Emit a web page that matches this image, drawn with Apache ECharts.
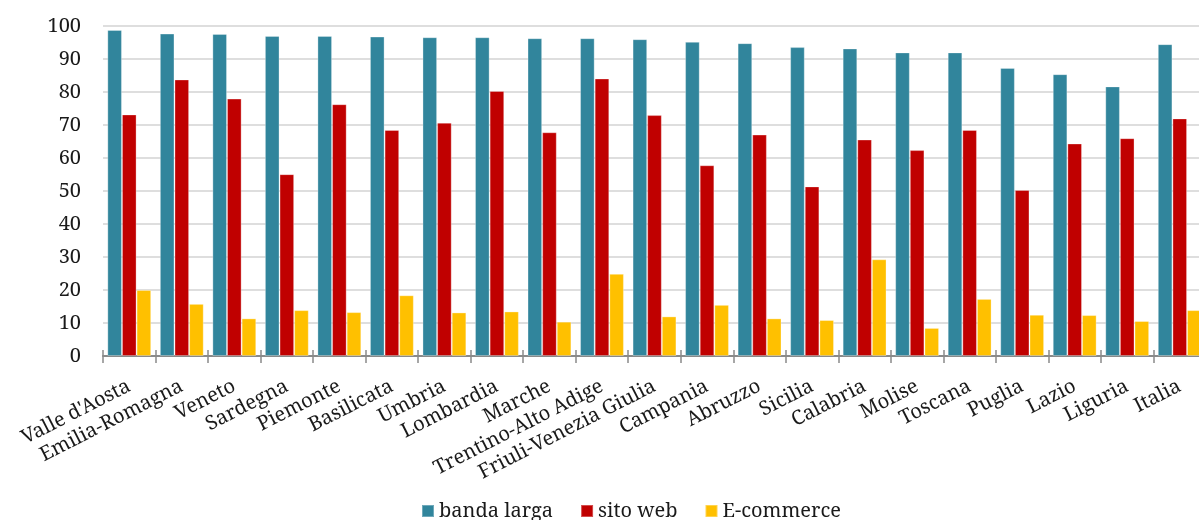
<!DOCTYPE html>
<html>
<head>
<meta charset="utf-8">
<title>Imprese con banda larga, sito web ed e-commerce per regione</title>
<script src="https://cdn.jsdelivr.net/npm/echarts@6/dist/echarts.min.js"></script>
<style>
  html, body { margin: 0; padding: 0; background: #ffffff; overflow: hidden; }
  #chart { width: 1206px; height: 520px; }
</style>
</head>
<body>
<div id="chart"></div>
<script>
// Regions (plus the national figure) in the order shown
const regions = [
  "Valle d'Aosta", 'Emilia-Romagna', 'Veneto', 'Sardegna', 'Piemonte', 'Basilicata',
  'Umbria', 'Lombardia', 'Marche', 'Trentino-Alto Adige', 'Friuli-Venezia Giulia',
  'Campania', 'Abruzzo', 'Sicilia', 'Calabria', 'Molise', 'Toscana', 'Puglia',
  'Lazio', 'Liguria', 'Italia'
];

// Share of firms (%)
const bandaLarga = [98.8, 97.7, 97.6, 97.0, 97.0, 96.8, 96.6, 96.6, 96.3, 96.3, 96.0,
                    95.2, 94.8, 93.6, 93.2, 92.0, 92.0, 87.3, 85.4, 81.7, 94.5];
const sitoWeb    = [73.2, 83.8, 78.0, 55.1, 76.3, 68.5, 70.7, 80.3, 67.8, 84.1, 73.0,
                    57.8, 67.1, 51.4, 65.6, 62.4, 68.5, 50.3, 64.4, 66.0, 72.0];
const eCommerce  = [20.0, 15.8, 11.4, 13.9, 13.3, 18.4, 13.2, 13.5, 10.4, 24.9, 12.0,
                    15.5, 11.4, 10.9, 29.3, 8.5, 17.3, 12.5, 12.4, 10.6, 13.9];

const seriesNames = ['banda larga', 'sito web', 'E-commerce'];
const yTicks = { min: 0, max: 100, step: 10 };

const FONT = '"Noto Serif", "DejaVu Serif", serif';
const colors = ['#31859c', '#c00000', '#ffc000'];

const chart = echarts.init(document.getElementById('chart'), null, { renderer: 'canvas' });

function barSeries(name, values, color) {
  return {
    name: name,
    type: 'bar',
    data: values,
    barGap: '0%',
    barCategoryGap: '16.5%',
    itemStyle: { color: color, borderColor: 'rgba(255,255,255,0.3)', borderWidth: 1 },
    emphasis: { disabled: true }
  };
}

chart.setOption({
  animation: false,
  backgroundColor: '#ffffff',
  color: colors,
  textStyle: { fontFamily: FONT },
  grid: { left: 103, right: 0, top: 26, bottom: 164, containLabel: false },
  legend: {
    data: seriesNames,
    left: 421,
    top: 501,
    padding: 0,
    icon: 'rect',
    itemWidth: 12,
    itemHeight: 12,
    itemGap: 27,
    textStyle: { fontFamily: FONT, fontSize: 20, color: '#1a1a1a' }
  },
  xAxis: [
    {
      type: 'category',
      data: regions,
      position: 'bottom',
      axisLine: { show: true, lineStyle: { color: '#8a8a8a', width: 2 } },
      axisTick: { show: true, interval: 0, length: 7, lineStyle: { color: '#8a8a8a', width: 1.5 } },
      axisLabel: {
        interval: 0,
        rotate: 27,
        margin: 29,
        fontFamily: FONT,
        fontSize: 20,
        color: '#1a1a1a'
      },
      splitLine: { show: false }
    },
    {
      // short ticks above the baseline, so the category ticks cross the axis
      type: 'category',
      data: regions,
      position: 'bottom',
      axisLine: { show: false },
      axisTick: { show: true, inside: true, interval: 0, length: 6, lineStyle: { color: '#8a8a8a', width: 1.5 } },
      axisLabel: { show: false },
      splitLine: { show: false }
    }
  ],
  yAxis: {
    type: 'value',
    min: yTicks.min,
    max: yTicks.max,
    interval: yTicks.step,
    axisLine: { show: false },
    axisTick: { show: false },
    axisLabel: { margin: 22, fontFamily: FONT, fontSize: 20, color: '#1a1a1a' },
    splitLine: { lineStyle: { color: '#d3d3d3', width: 1.5 } }
  },
  series: [
    barSeries(seriesNames[0], bandaLarga, colors[0]),
    barSeries(seriesNames[1], sitoWeb, colors[1]),
    barSeries(seriesNames[2], eCommerce, colors[2])
  ]
});
</script>
</body>
</html>
